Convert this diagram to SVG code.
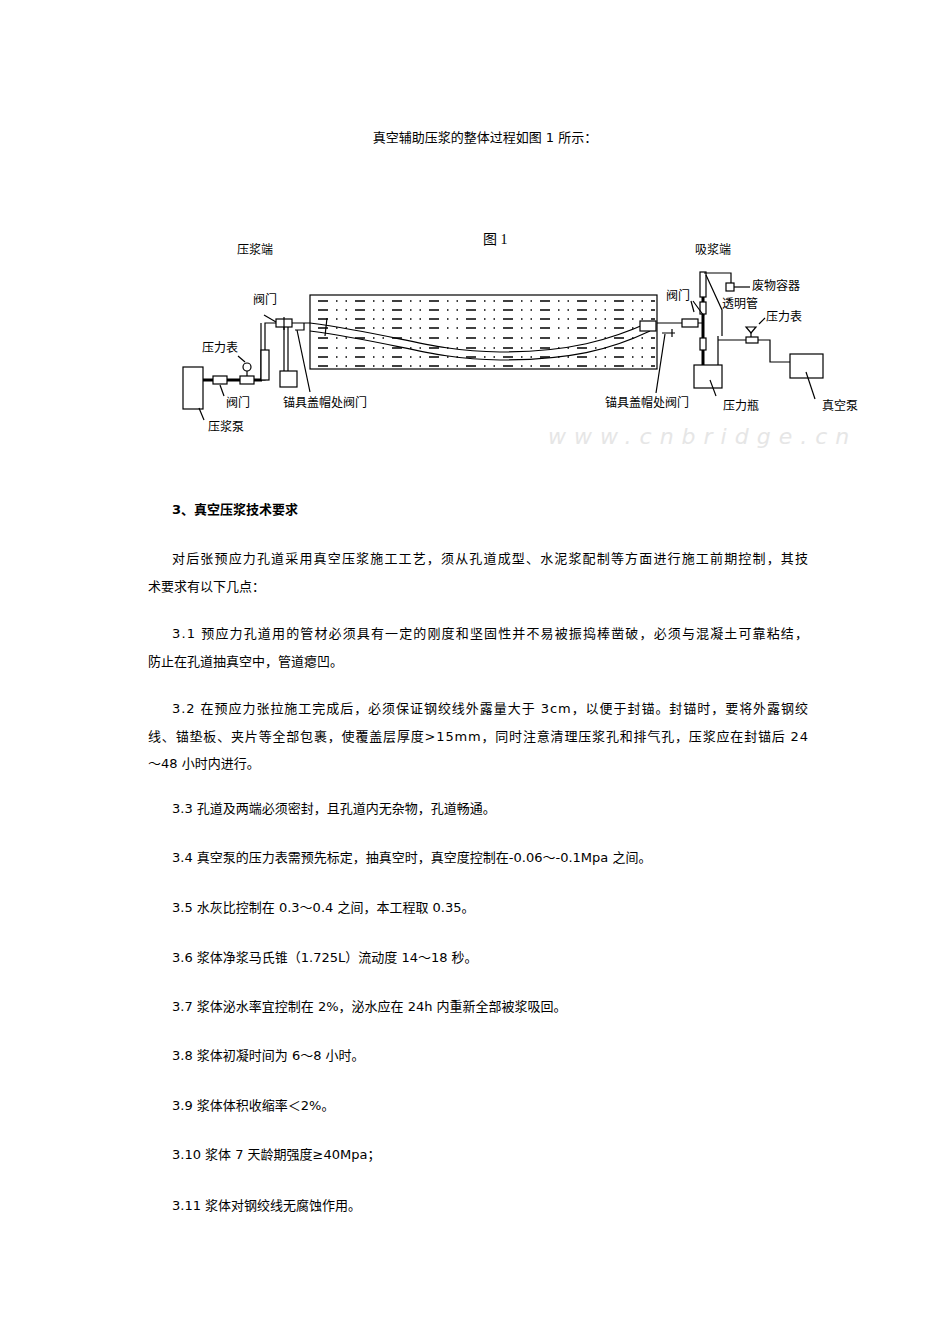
<svg xmlns="http://www.w3.org/2000/svg" width="950" height="1344" viewBox="0 0 950 1344">
<style>
text{font-family:"DejaVu Sans","Noto Sans CJK SC",sans-serif;font-size:13px;fill:#000}
.l{font-size:12px;font-family:"Noto Sans CJK SC",sans-serif}
.s{fill:none;stroke:#000;stroke-width:1.2}
.p{fill:none;stroke:#000;stroke-width:3}
.b{fill:#fff;stroke:#000;stroke-width:1.2}
.d{stroke:#000;stroke-width:1.3;stroke-dasharray:10 8 1.5 8 1.5 8}
</style>
<rect width="950" height="1344" fill="#fff"/>
<text x="485" y="142" text-anchor="middle">真空辅助压浆的整体过程如图 1 所示：</text>
<g id="figure">
<text x="483" y="244" style="font-family:'Liberation Serif','Noto Sans CJK SC',serif;font-size:14px">图 1</text>
<g id="beam">
<rect x="310" y="295" width="347" height="74" class="b"/>
<g class="d">
<line x1="318" y1="301" x2="655" y2="301"/><line x1="318" y1="310" x2="655" y2="310"/>
<line x1="318" y1="319" x2="655" y2="319"/><line x1="318" y1="328" x2="655" y2="328"/>
<line x1="318" y1="338" x2="655" y2="338"/><line x1="318" y1="348" x2="655" y2="348"/>
<line x1="318" y1="357" x2="655" y2="357"/><line x1="318" y1="366" x2="655" y2="366"/>
</g>
<path d="M310 323 C400 335 430 351 500 352 C570 352 610 340 650 322" class="s" stroke-width="1.5"/>
<path d="M310 331 C400 343 430 359 500 360 C570 360 610 350 650 331" class="s" stroke-width="1.5"/>
<line x1="327" y1="318" x2="325" y2="336" class="s" stroke-width="2"/>
<rect x="640" y="321" width="16" height="10" class="b"/>
</g>
<g id="left">
<rect x="183" y="367" width="20" height="42" class="b"/>
<line x1="203" y1="380" x2="262" y2="380" class="p"/>
<rect x="213" y="376" width="14" height="8" class="b"/>
<rect x="240" y="376" width="14" height="8" class="b"/>
<path d="M247 376 V370" class="s"/><circle cx="247" cy="367" r="4" class="b"/>
<path d="M259 380 H265 V323 H310" class="s" stroke-width="4"/>
<path d="M261 380 V323" class="s" stroke="#fff" stroke-width="1"/>
<rect x="261" y="350" width="8" height="30" class="b"/>
<rect x="276" y="319" width="16" height="8" class="b"/>
<line x1="284" y1="317" x2="284" y2="330" class="s"/>
<path d="M284 327 V371 M288 327 V371" class="s"/>
<rect x="280" y="371" width="17" height="16" class="b"/>
<path d="M295 330 H304 V323" class="s" stroke-width="1.5"/>
<line x1="264" y1="315" x2="276" y2="322" class="s" stroke-width="0.8"/>
<line x1="238" y1="356" x2="245" y2="362" class="s" stroke-width="0.8"/>
<line x1="220" y1="385" x2="224" y2="396" class="s" stroke-width="0.8"/>
<line x1="199" y1="408" x2="204" y2="420" class="s" stroke-width="0.8"/>
<line x1="297" y1="330" x2="310" y2="392" class="s" stroke-width="0.8"/>
<text x="237" y="254" class="l">压浆端</text>
<text x="253" y="304" class="l">阀门</text>
<text x="202" y="352" class="l">压力表</text>
<text x="226" y="407" class="l">阀门</text>
<text x="208" y="431" class="l">压浆泵</text>
<text x="283" y="407" class="l">锚具盖帽处阀门</text>
</g>
<g id="right">
<path d="M657 323 H704" class="s" stroke-width="3"/>
<rect x="682" y="319" width="16" height="8" class="b"/>
<path d="M662 333 H675 M672 329 V337" class="s" stroke-width="1.5"/>
<line x1="703" y1="273" x2="703" y2="365" class="p"/>
<rect x="700" y="272" width="6" height="25" class="b"/>
<rect x="700" y="302" width="6" height="12" class="b"/>
<rect x="700" y="338" width="6" height="12" class="b"/>
<path d="M704 273 H720 H731 V283" class="s" stroke-width="2"/>
<rect x="726" y="283" width="8" height="8" class="b"/>
<path d="M734 287 H750" class="s" stroke-width="0.8"/>
<path d="M706 275 L722 310 V336 M718 336 V365" class="s"/>
<path d="M718 340 H730 H760 H770 V362 H790" class="s" stroke-width="2.5"/>
<rect x="746" y="337" width="12" height="6" class="b"/>
<path d="M751 337 V333" class="s"/><path d="M746 327 H756 L751 333 Z" class="b"/>
<rect x="694" y="365" width="28" height="23" class="b"/>
<rect x="790" y="354" width="33" height="24" class="b"/>
<path d="M691 301 L694 312 M693 301 L704 316" class="s" stroke-width="0.8"/>
<path d="M656 393 L665 334" class="s" stroke-width="0.8"/>
<path d="M710 380 L716 396" class="s" stroke-width="0.8"/>
<path d="M806 372 L815 399" class="s" stroke-width="0.8"/>
<path d="M759 324 L765 318" class="s" stroke-width="0.8"/>
<text x="695" y="254" class="l">吸浆端</text>
<text x="752" y="290" class="l">废物容器</text>
<text x="722" y="308" class="l">透明管</text>
<text x="666" y="300" class="l">阀门</text>
<text x="766" y="321" class="l">压力表</text>
<text x="605" y="407" class="l">锚具盖帽处阀门</text>
<text x="723" y="410" class="l">压力瓶</text>
<text x="822" y="410" class="l">真空泵</text>
</g>
<text x="548" y="444" style="font-family:'DejaVu Sans',sans-serif;font-size:22px;fill:#e6e6e6;letter-spacing:8px;font-style:italic">www.cnbridge.cn</text>
</g>
<text x="172" y="514" font-weight="bold">3、真空压浆技术要求</text>
<text x="172" y="563" textLength="636" lengthAdjust="spacing">对后张预应力孔道采用真空压浆施工工艺，须从孔道成型、水泥浆配制等方面进行施工前期控制，其技</text>
<text x="148" y="591">术要求有以下几点：</text>
<text x="172" y="638" textLength="636" lengthAdjust="spacing">3.1 预应力孔道用的管材必须具有一定的刚度和坚固性并不易被振捣棒凿破，必须与混凝土可靠粘结，</text>
<text x="148" y="666">防止在孔道抽真空中，管道瘪凹。</text>
<text x="172" y="713" textLength="636" lengthAdjust="spacing">3.2 在预应力张拉施工完成后，必须保证钢绞线外露量大于 3cm，以便于封锚。封锚时，要将外露钢绞</text>
<text x="148" y="741" textLength="660" lengthAdjust="spacing">线、锚垫板、夹片等全部包裹，使覆盖层厚度&gt;15mm，同时注意清理压浆孔和排气孔，压浆应在封锚后 24</text>
<text x="148" y="768">～48 小时内进行。</text>
<text x="172" y="813">3.3 孔道及两端必须密封，且孔道内无杂物，孔道畅通。</text>
<text x="172" y="862">3.4 真空泵的压力表需预先标定，抽真空时，真空度控制在-0.06～-0.1Mpa 之间。</text>
<text x="172" y="912">3.5 水灰比控制在 0.3～0.4 之间，本工程取 0.35。</text>
<text x="172" y="962">3.6 浆体净浆马氏锥（1.725L）流动度 14～18 秒。</text>
<text x="172" y="1011">3.7 浆体泌水率宜控制在 2%，泌水应在 24h 内重新全部被浆吸回。</text>
<text x="172" y="1060">3.8 浆体初凝时间为 6～8 小时。</text>
<text x="172" y="1110">3.9 浆体体积收缩率＜2%。</text>
<text x="172" y="1159">3.10 浆体 7 天龄期强度≥40Mpa；</text>
<text x="172" y="1210">3.11 浆体对钢绞线无腐蚀作用。</text>
</svg>
